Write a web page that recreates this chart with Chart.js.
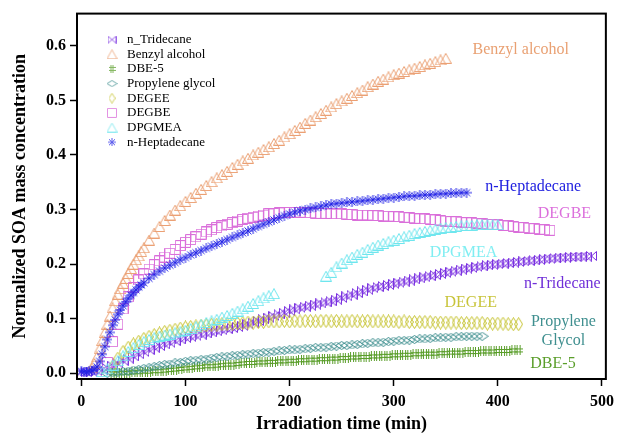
<!DOCTYPE html>
<html>
<head>
<meta charset="utf-8">
<script src="https://cdn.jsdelivr.net/npm/chart.js@4.4.1/dist/chart.umd.min.js"></script>
<style>
  html, body { margin: 0; padding: 0; background: #fff; }
  #wrap { width: 620px; height: 435px; }
</style>
</head>
<body>
<div id="wrap"><canvas id="chart" width="620" height="435"></canvas></div>
<script>
// sampling step of the time axis (min); steep starts are read at half step
const STEP = 5;
const FINE_STEP = 2.5;

const xTicks = [0, 100, 200, 300, 400, 500];
const yTicks = [0, 0.1, 0.2, 0.3, 0.4, 0.5, 0.6];

const legendNames = ['n_Tridecane', 'Benzyl alcohol', 'DBE-5', 'Propylene glycol', 'DEGEE', 'DEGBE', 'DPGMEA', 'n-Heptadecane'];

// n_Tridecane, 0 -> 490 min
const tridecaneStart = 0;
const tridecaneVals = [
  0.002, 0.002, 0.003, 0.004, 0.006, 0.010, 0.014, 0.018, 0.023, 0.027,
  0.031, 0.035, 0.039, 0.043, 0.047, 0.050, 0.053, 0.056, 0.059, 0.062,
  0.065, 0.067, 0.069, 0.071, 0.073, 0.075, 0.077, 0.079, 0.081, 0.083,
  0.085, 0.087, 0.090, 0.093, 0.096, 0.099, 0.102, 0.105, 0.108, 0.111,
  0.114, 0.117, 0.120, 0.122, 0.124, 0.126, 0.128, 0.130, 0.132, 0.135,
  0.138, 0.141, 0.144, 0.147, 0.150, 0.153, 0.156, 0.158, 0.160, 0.162,
  0.164, 0.166, 0.168, 0.170, 0.172, 0.174, 0.176, 0.178, 0.180, 0.182,
  0.184, 0.186, 0.188, 0.190, 0.192, 0.193, 0.195, 0.196, 0.198, 0.199,
  0.200, 0.201, 0.202, 0.203, 0.204, 0.205, 0.206, 0.207, 0.208, 0.209,
  0.210, 0.211, 0.212, 0.212, 0.213, 0.213, 0.214, 0.214, 0.215
];

// Benzyl alcohol, 10 -> 60 min (fine), 65 -> 350 min
const benzylEarlyStart = 10;
const benzylEarlyVals = [
  0.010, 0.018, 0.030, 0.045, 0.060, 0.075, 0.090, 0.105, 0.120, 0.133,
  0.145, 0.155, 0.165, 0.174, 0.183, 0.192, 0.200, 0.208, 0.215, 0.223,
  0.230
];
const benzylStart = 65;
const benzylVals = [
  0.244, 0.257, 0.269, 0.280, 0.290, 0.299, 0.307, 0.315, 0.322,
  0.330, 0.337, 0.344, 0.351, 0.358, 0.364, 0.370, 0.377, 0.383, 0.389,
  0.394, 0.400, 0.405, 0.410, 0.415, 0.421, 0.427, 0.433, 0.439, 0.445,
  0.451, 0.458, 0.464, 0.470, 0.476, 0.482, 0.488, 0.494, 0.499, 0.504,
  0.509, 0.514, 0.519, 0.525, 0.530, 0.535, 0.539, 0.543, 0.547, 0.550,
  0.553, 0.556, 0.559, 0.562, 0.565, 0.568, 0.571, 0.574, 0.577
];

// DBE-5, 30 -> 420 min
const dbe5Start = 30;
const dbe5Vals = [
  0.000, 0.000, 0.001, 0.001, 0.002, 0.002, 0.003, 0.003, 0.004, 0.004,
  0.005, 0.006, 0.007, 0.008, 0.009, 0.010, 0.011, 0.012, 0.013, 0.013,
  0.014, 0.015, 0.016, 0.016, 0.017, 0.018, 0.019, 0.019, 0.020, 0.020,
  0.021, 0.021, 0.022, 0.022, 0.023, 0.023, 0.024, 0.024, 0.025, 0.025,
  0.026, 0.026, 0.027, 0.027, 0.028, 0.028, 0.029, 0.029, 0.030, 0.030,
  0.031, 0.031, 0.032, 0.032, 0.033, 0.033, 0.034, 0.034, 0.035, 0.035,
  0.036, 0.036, 0.036, 0.037, 0.037, 0.038, 0.038, 0.038, 0.039, 0.039,
  0.039, 0.040, 0.040, 0.040, 0.041, 0.041, 0.041, 0.042, 0.042
];

// Propylene glycol, 25 -> 385 min
const propyleneStart = 25;
const propyleneVals = [
  0.000, 0.001, 0.002, 0.003, 0.004, 0.006, 0.007, 0.009, 0.010, 0.012,
  0.014, 0.016, 0.017, 0.019, 0.020, 0.022, 0.023, 0.024, 0.025, 0.026,
  0.028, 0.029, 0.030, 0.031, 0.032, 0.033, 0.034, 0.035, 0.036, 0.037,
  0.038, 0.039, 0.040, 0.041, 0.042, 0.043, 0.043, 0.044, 0.045, 0.046,
  0.047, 0.047, 0.048, 0.049, 0.050, 0.051, 0.051, 0.052, 0.053, 0.054,
  0.055, 0.056, 0.056, 0.057, 0.058, 0.059, 0.060, 0.060, 0.061, 0.062,
  0.063, 0.063, 0.064, 0.065, 0.065, 0.066, 0.066, 0.067, 0.067, 0.068,
  0.068, 0.068, 0.068
];

// DEGEE, 30 -> 420 min
const degeeStart = 30;
const degeeVals = [
  0.012, 0.027, 0.039, 0.047, 0.053, 0.058, 0.063, 0.067, 0.070, 0.073,
  0.076, 0.078, 0.080, 0.082, 0.084, 0.085, 0.086, 0.087, 0.088, 0.089,
  0.089, 0.090, 0.090, 0.091, 0.092, 0.092, 0.093, 0.093, 0.094, 0.094,
  0.095, 0.095, 0.095, 0.096, 0.095, 0.096, 0.095, 0.096, 0.096, 0.095,
  0.096, 0.096, 0.095, 0.096, 0.095, 0.095, 0.096, 0.095, 0.095, 0.096,
  0.095, 0.095, 0.095, 0.095, 0.095, 0.094, 0.095, 0.094, 0.094, 0.094,
  0.094, 0.094, 0.093, 0.093, 0.093, 0.093, 0.093, 0.092, 0.092, 0.092,
  0.092, 0.092, 0.091, 0.091, 0.091, 0.091, 0.090, 0.090, 0.090
];

// DEGBE, 25 -> 450 min
const degbeStart = 25;
const degbeVals = [
  0.020, 0.058, 0.090, 0.118, 0.140, 0.157, 0.171, 0.182, 0.191, 0.199,
  0.206, 0.213, 0.220, 0.227, 0.234, 0.240, 0.245, 0.250, 0.255, 0.259,
  0.263, 0.267, 0.270, 0.273, 0.276, 0.279, 0.282, 0.284, 0.286, 0.288,
  0.290, 0.292, 0.293, 0.294, 0.295, 0.295, 0.295, 0.295, 0.294, 0.294,
  0.293, 0.293, 0.293, 0.292, 0.292, 0.292, 0.291, 0.291, 0.290, 0.290,
  0.290, 0.289, 0.289, 0.288, 0.288, 0.287, 0.287, 0.286, 0.285, 0.284,
  0.283, 0.283, 0.282, 0.281, 0.280, 0.279, 0.278, 0.278, 0.277, 0.276,
  0.276, 0.275, 0.274, 0.273, 0.273, 0.272, 0.271, 0.270, 0.269, 0.268,
  0.267, 0.266, 0.265, 0.264, 0.263, 0.262
];

// DPGMEA, two runs: 20 -> 185 min and 235 -> 400 min
const dpgmeaStartA = 20;
const dpgmeaValsA = [
  0.003, 0.008, 0.015, 0.023, 0.032, 0.040, 0.047, 0.053, 0.058, 0.062,
  0.065, 0.068, 0.070, 0.072, 0.074, 0.076, 0.079, 0.082, 0.085, 0.089,
  0.093, 0.096, 0.099, 0.103, 0.106, 0.110, 0.114, 0.118, 0.123, 0.128,
  0.133, 0.138, 0.142, 0.146
];
const dpgmeaStartB = 235;
const dpgmeaValsB = [
  0.178, 0.185, 0.195, 0.202, 0.208, 0.213, 0.218, 0.222, 0.227, 0.231,
  0.235, 0.238, 0.241, 0.244, 0.247, 0.250, 0.253, 0.256, 0.258, 0.260,
  0.262, 0.264, 0.266, 0.267, 0.268, 0.269, 0.270, 0.271, 0.271, 0.272,
  0.272, 0.272, 0.272, 0.272
];

// n-Heptadecane, 0 -> 60 min (fine), 65 -> 370 min
const heptadecaneEarlyStart = 0;
const heptadecaneEarlyVals = [
  0.004, 0.003, 0.002, 0.004, 0.005, 0.007, 0.012, 0.022, 0.035, 0.049,
  0.062, 0.075, 0.088, 0.098, 0.108, 0.116, 0.124, 0.131, 0.137, 0.143,
  0.148, 0.153, 0.158, 0.162, 0.166
];
const heptadecaneStart = 65;
const heptadecaneVals = [
  0.174, 0.181, 0.187, 0.193, 0.198, 0.203, 0.208,
  0.212, 0.217, 0.221, 0.225, 0.229, 0.233, 0.237, 0.241, 0.245, 0.249,
  0.253, 0.257, 0.261, 0.265, 0.269, 0.273, 0.277, 0.281, 0.285, 0.289,
  0.292, 0.295, 0.298, 0.300, 0.302, 0.304, 0.306, 0.308, 0.310, 0.311,
  0.312, 0.313, 0.314, 0.315, 0.316, 0.317, 0.318, 0.319, 0.320, 0.321,
  0.322, 0.323, 0.324, 0.325, 0.325, 0.326, 0.327, 0.327, 0.328, 0.329,
  0.329, 0.330, 0.330, 0.331, 0.331
];

const FONT = "'Liberation Serif', 'Times New Roman', serif";

const colors = {
  tridecane: '#7a30e0',
  benzyl: '#eba074',
  dbe5: '#5a9e2a',
  propylene: '#3f8f8f',
  degee: '#c5c22e',
  degbe: '#da6fda',
  dpgmea: '#6fe6ee',
  heptadecane: '#2222e6'
};

// text labels placed next to the curves (data coordinates)
const curveLabels = [
  { text: 'Benzyl alcohol', x: 422, y: 0.592, color: '#e9a072' },
  { text: 'n-Heptadecane', x: 434, y: 0.342, color: '#2020e0' },
  { text: 'DEGBE', x: 464, y: 0.293, color: '#dc70dc' },
  { text: 'DPGMEA', x: 367, y: 0.220, color: '#80eef2' },
  { text: 'n-Tridecane', x: 462, y: 0.164, color: '#7030d8' },
  { text: 'DEGEE', x: 374, y: 0.130, color: '#c8c43a' },
  { text: 'Propylene', x: 463, y: 0.094, color: '#3f8f8f' },
  { text: 'Glycol', x: 463, y: 0.059, color: '#3f8f8f' },
  { text: 'DBE-5', x: 453, y: 0.018, color: '#5a9e2a' }
];

const toPoints = (start, vals, step = STEP) => vals.map((v, i) => ({ x: start + i * step, y: v }));

// marker glyphs
function marker(w, h, color, draw) {
  const c = document.createElement('canvas');
  c.width = w; c.height = h;
  const g = c.getContext('2d');
  g.strokeStyle = color;
  g.lineWidth = 1;
  g.beginPath();
  draw(g, w, h);
  g.stroke();
  return c;
}

const markers = {
  tridecane: marker(11, 10, colors.tridecane, (g) => {
    g.moveTo(0.5, 0.5); g.lineTo(0.5, 9.5); g.lineTo(10.5, 0.5); g.lineTo(10.5, 9.5); g.closePath();
  }),
  benzyl: marker(12, 11, colors.benzyl, (g) => {
    g.moveTo(0.5, 10.5); g.lineTo(6, 0.5); g.lineTo(11.5, 10.5); g.closePath();
  }),
  dbe5: marker(8, 10, colors.dbe5, (g) => {
    g.moveTo(2.5, 0); g.lineTo(2.5, 10); g.moveTo(5.5, 0); g.lineTo(5.5, 10);
    g.moveTo(0, 3.5); g.lineTo(8, 3.5); g.moveTo(0, 6.5); g.lineTo(8, 6.5);
  }),
  propylene: marker(13, 9, colors.propylene, (g) => {
    g.moveTo(0.5, 4.5); g.lineTo(6.5, 0.5); g.lineTo(12.5, 4.5); g.lineTo(6.5, 8.5); g.closePath();
  }),
  degee: marker(9, 14, colors.degee, (g) => {
    g.moveTo(4.5, 0.5); g.lineTo(8.5, 7); g.lineTo(4.5, 13.5); g.lineTo(0.5, 7); g.closePath();
  }),
  degbe: marker(11, 11, colors.degbe, (g) => {
    g.rect(0.5, 0.5, 10, 10);
  }),
  dpgmea: marker(12, 11, colors.dpgmea, (g) => {
    g.moveTo(0.5, 10.5); g.lineTo(6, 0.5); g.lineTo(11.5, 10.5); g.closePath();
  }),
  heptadecane: marker(10, 10, colors.heptadecane, (g) => {
    g.moveTo(0, 5); g.lineTo(10, 5); g.moveTo(5, 0); g.lineTo(5, 10);
    g.moveTo(1.5, 1.5); g.lineTo(8.5, 8.5); g.moveTo(8.5, 1.5); g.lineTo(1.5, 8.5);
  })
};

// smaller glyphs for the legend box
const legendMarkers = [
  marker(9, 8, colors.tridecane, (g) => { g.moveTo(0.5, 0.5); g.lineTo(0.5, 7.5); g.lineTo(8.5, 0.5); g.lineTo(8.5, 7.5); g.closePath(); }),
  marker(11, 10, colors.benzyl, (g) => { g.moveTo(0.5, 9.5); g.lineTo(5.5, 0.5); g.lineTo(10.5, 9.5); g.closePath(); }),
  marker(7, 8, colors.dbe5, (g) => { g.moveTo(2.5, 0); g.lineTo(2.5, 8); g.moveTo(4.5, 0); g.lineTo(4.5, 8); g.moveTo(0, 2.5); g.lineTo(7, 2.5); g.moveTo(0, 5.5); g.lineTo(7, 5.5); }),
  marker(11, 7, colors.propylene, (g) => { g.moveTo(0.5, 3.5); g.lineTo(5.5, 0.5); g.lineTo(10.5, 3.5); g.lineTo(5.5, 6.5); g.closePath(); }),
  marker(7, 11, colors.degee, (g) => { g.moveTo(3.5, 0.5); g.lineTo(6.5, 5.5); g.lineTo(3.5, 10.5); g.lineTo(0.5, 5.5); g.closePath(); }),
  marker(10, 10, colors.degbe, (g) => { g.rect(0.5, 0.5, 9, 9); }),
  marker(11, 10, colors.dpgmea, (g) => { g.moveTo(0.5, 9.5); g.lineTo(5.5, 0.5); g.lineTo(10.5, 9.5); g.closePath(); }),
  marker(8, 8, colors.heptadecane, (g) => { g.moveTo(0, 4); g.lineTo(8, 4); g.moveTo(4, 0); g.lineTo(4, 8); g.moveTo(1, 1); g.lineTo(7, 7); g.moveTo(7, 1); g.lineTo(1, 7); })
];

const ds = (label, key, data) => ({
  label, data,
  showLine: false,
  pointStyle: markers[key],
  pointRadius: 5,
  pointHoverRadius: 5,
  borderColor: colors[key],
  backgroundColor: 'rgba(0,0,0,0)',
  clip: 6
});

// first dataset is drawn last (on top)
const datasets = [
  ds('n-Heptadecane', 'heptadecane', toPoints(heptadecaneEarlyStart, heptadecaneEarlyVals, FINE_STEP).concat(toPoints(heptadecaneStart, heptadecaneVals))),
  ds('DPGMEA', 'dpgmea', toPoints(dpgmeaStartA, dpgmeaValsA).concat(toPoints(dpgmeaStartB, dpgmeaValsB))),
  ds('DEGBE', 'degbe', toPoints(degbeStart, degbeVals)),
  ds('DEGEE', 'degee', toPoints(degeeStart, degeeVals)),
  ds('Propylene glycol', 'propylene', toPoints(propyleneStart, propyleneVals)),
  ds('DBE-5', 'dbe5', toPoints(dbe5Start, dbe5Vals)),
  ds('Benzyl alcohol', 'benzyl', toPoints(benzylEarlyStart, benzylEarlyVals, FINE_STEP).concat(toPoints(benzylStart, benzylVals))),
  ds('n_Tridecane', 'tridecane', toPoints(tridecaneStart, tridecaneVals))
];

// frame, inside legend and curve labels
const overlay = {
  id: 'overlay',
  afterDatasetsDraw(chart) {
    const { ctx, chartArea: a, scales: { x, y } } = chart;
    ctx.save();
    ctx.strokeStyle = '#000';
    ctx.lineWidth = 2;
    ctx.strokeRect(a.left, a.top, a.right - a.left, a.bottom - a.top);

    ctx.font = '13px ' + FONT;
    ctx.fillStyle = '#000';
    ctx.textBaseline = 'middle';
    ctx.textAlign = 'left';
    legendNames.forEach((name, i) => {
      const ly = a.top + 26 + i * 14.66;
      const m = legendMarkers[i];
      ctx.globalAlpha = 0.75;
      ctx.drawImage(m, a.left + 35 - m.width / 2, ly - m.height / 2);
      ctx.globalAlpha = 1;
      ctx.fillText(name, a.left + 50, ly);
    });

    ctx.font = '16px ' + FONT;
    ctx.textAlign = 'center';
    curveLabels.forEach(l => {
      ctx.fillStyle = l.color;
      ctx.fillText(l.text, x.getPixelForValue(l.x), y.getPixelForValue(l.y));
    });
    ctx.restore();
  }
};

const tickFont = { family: FONT, size: 16, weight: 'bold' };
const titleFont = { family: FONT, size: 18, weight: 'bold' };

new Chart(document.getElementById('chart'), {
  type: 'scatter',
  data: { datasets },
  options: {
    responsive: false,
    animation: false,
    events: [],
    layout: { padding: { top: 11, right: 12, left: 0, bottom: 0 } },
    plugins: { legend: { display: false }, tooltip: { enabled: false } },
    scales: {
      x: {
        type: 'linear',
        min: -4.2,
        max: 503.8,
        border: { color: '#000', width: 2 },
        grid: { drawOnChartArea: false, drawTicks: true, tickLength: 7, tickWidth: 1.5, tickColor: '#000' },
        ticks: { color: '#000', font: tickFont, padding: 6, maxRotation: 0 },
        afterBuildTicks: s => { s.ticks = xTicks.map(v => ({ value: v })); },
        afterFit: s => { s.height = 56; },
        title: { display: true, text: 'Irradiation time (min)', color: '#000', font: titleFont, padding: { top: 0, bottom: 0 } }
      },
      y: {
        type: 'linear',
        min: -0.0104,
        max: 0.659,
        border: { color: '#000', width: 2 },
        grid: { drawOnChartArea: false, drawTicks: true, tickLength: 7, tickWidth: 1.5, tickColor: '#000' },
        ticks: { color: '#000', font: tickFont, padding: 4, callback: v => v.toFixed(1) },
        afterBuildTicks: s => { s.ticks = yTicks.map(v => ({ value: v })); },
        afterFit: s => { s.width = 77; },
        title: { display: true, text: 'Normalized SOA mass concentration', color: '#000', font: titleFont, padding: { top: 10, bottom: 0 } }
      }
    }
  },
  plugins: [overlay]
});
</script>
</body>
</html>
